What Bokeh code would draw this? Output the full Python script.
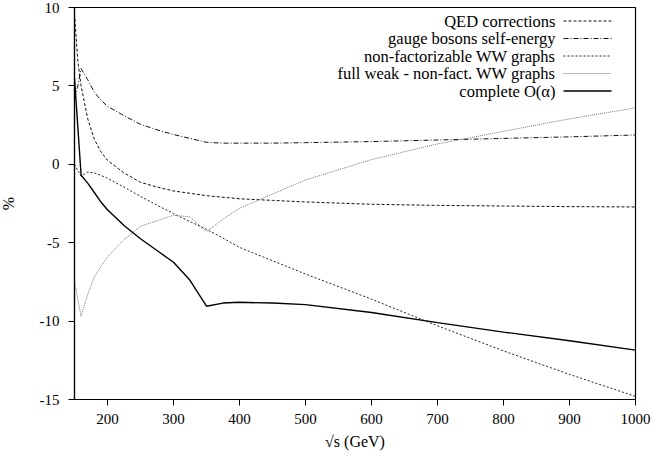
from bokeh.plotting import figure
from bokeh.models import FixedTicker, Label, Arrow, Range1d
from bokeh.embed import file_html
from bokeh.resources import INLINE

# ---- data ----
sqrt_s = [150, 155, 160, 170, 180, 190, 200, 225, 250, 275, 300, 325, 350,
          375, 400, 450, 500, 600, 700, 800, 900, 1000]
qed = [9.6, 6.6, 5.0, 2.9, 1.6, 0.8, 0.25, -0.55, -1.15, -1.45, -1.7, -1.85,
       -2.0, -2.1, -2.2, -2.3, -2.4, -2.55, -2.62, -2.66, -2.7, -2.72]
gauge = [4.2, 5.0, 6.1, 5.4, 4.6, 4.1, 3.7, 3.1, 2.55, 2.2, 1.9, 1.65, 1.4,
         1.35, 1.35, 1.35, 1.38, 1.45, 1.55, 1.65, 1.75, 1.87]
nonfact = [0.0, -0.4, -0.75, -0.5, -0.55, -0.7, -0.9, -1.45, -2.05, -2.6,
           -3.15, -3.65, -4.15, -4.7, -5.3, -6.15, -7.0, -8.6, -10.3, -11.9,
           -13.4, -14.8]
weak_rest = [-7.5, -8.6, -9.7, -8.3, -7.2, -6.5, -5.9, -4.8, -3.95, -3.6,
             -3.25, -3.35, -4.3, -3.5, -2.8, -1.9, -1.0, 0.3, 1.3, 2.1, 2.9, 3.6]
complete = [5.5, 2.4, -0.7, -1.2, -1.8, -2.4, -2.9, -3.9, -4.75, -5.5, -6.25,
            -7.4, -9.05, -8.85, -8.8, -8.85, -8.95, -9.45, -10.1, -10.7,
            -11.25, -11.85]

x_ticks = [200, 300, 400, 500, 600, 700, 800, 900, 1000]
y_ticks = [-15, -10, -5, 0, 5, 10]
y_tick_labels = {-15: "-15", -10: "-10", -5: "-5", 0: "0", 5: "5", 10: "10"}

labels = ["QED corrections", "gauge bosons self-energy",
          "non-factorizable WW graphs", "full weak - non-fact. WW graphs",
          "complete O(\u03b1)"]

FONT = "Liberation Serif"

FRAME_H = 392
p = figure(frame_width=561, frame_height=FRAME_H, output_backend="svg",
           toolbar_location=None,
           x_range=Range1d(150, 1000), y_range=Range1d(-15, 10),
           min_border_left=78, min_border_right=16, min_border_top=15,
           min_border_bottom=50)
p.styles = {"margin-top": "-8px", "margin-left": "-4px"}
p.grid.visible = False
p.outline_line_color = "black"
p.outline_line_width = 1.2

styles = [
    dict(color="#111111", line_dash="3 2", line_width=1.0),
    dict(color="#111111", line_dash="5 2 1 2", line_width=1.0),
    dict(color="#222222", line_dash="2 2", line_width=1.0),
    dict(color="#777777", line_dash="1 1", line_width=1.0),
    dict(color="#000000", line_dash="solid", line_width=1.4),
]
series = [qed, gauge, nonfact, weak_rest, complete]
for ys, st in zip(series, styles):
    p.line(sqrt_s, ys, line_color=st["color"], line_dash=st["line_dash"],
           line_width=st["line_width"])

for ax in (p.xaxis[0], p.yaxis[0]):
    ax.axis_line_color = "black"
    ax.axis_line_width = 1.2
    ax.major_tick_in = 0
    ax.major_tick_out = 6
    ax.minor_tick_in = 0
    ax.minor_tick_out = 0
    ax.major_label_text_font = FONT
    ax.major_label_text_font_size = "15px"
    ax.major_label_text_color = "black"
    ax.axis_label_text_font = FONT
    ax.axis_label_text_font_style = "normal"
    ax.axis_label_text_font_size = "16px"
    ax.axis_label_text_color = "black"

p.xaxis.ticker = FixedTicker(ticks=x_ticks)
p.yaxis.ticker = FixedTicker(ticks=y_ticks)
p.yaxis.major_label_overrides = y_tick_labels
p.xaxis.major_label_standoff = 8
p.yaxis.major_label_standoff = 9
p.xaxis.axis_label = "\u221as (GeV)"
p.yaxis.axis_label = "%"
p.xaxis.axis_label_standoff = 6
p.yaxis.axis_label_standoff = 20

# ---- custom legend: right-aligned text, line sample on the right ----
text_right = 557 - 76
sample_x0 = 565 - 76
sample_x1 = 613 - 76
row_y = [20.5, 38, 55.5, 73, 90.5]
for lab, st, ry in zip(labels, styles, row_y):
    yy = FRAME_H - (ry - 7)
    p.add_layout(Label(x=text_right, y=yy, x_units="screen", y_units="screen",
                       text=lab, text_align="right", text_baseline="middle",
                       text_font=FONT, text_font_size="16.5px",
                       text_color="black"))
    p.add_layout(Arrow(end=None, x_start=sample_x0, y_start=yy,
                       x_end=sample_x1, y_end=yy,
                       start_units="screen", end_units="screen",
                       line_color=st["color"], line_dash=st["line_dash"],
                       line_width=st["line_width"]))

open("out.html", "w").write(file_html(p, INLINE))
